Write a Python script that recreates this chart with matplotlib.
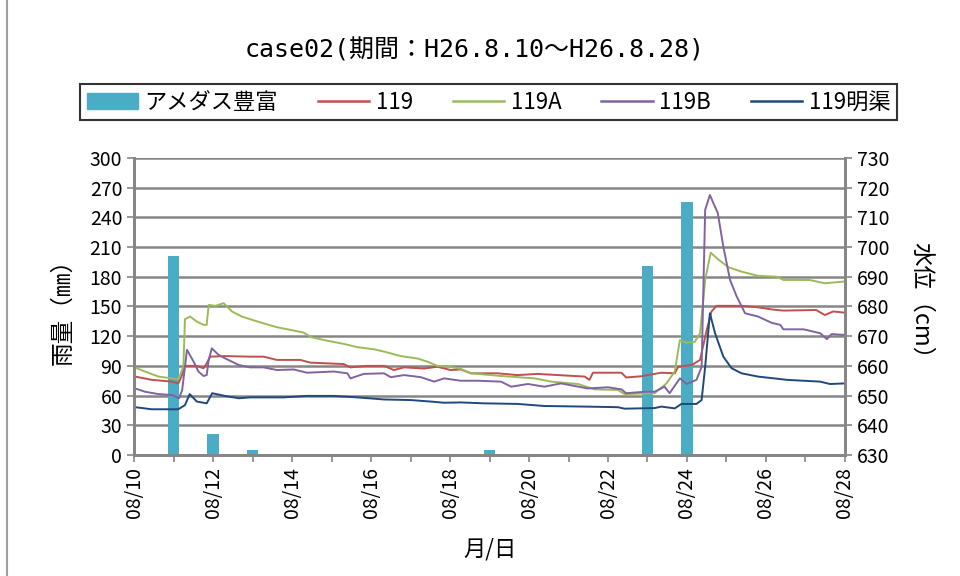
import numpy as np
import matplotlib
matplotlib.use("Agg")
import matplotlib.pyplot as plt
from matplotlib.patches import Patch
from matplotlib.lines import Line2D

plt.rcParams['font.family'] = ['Noto Sans CJK JP', 'DejaVu Sans']

# daily rainfall (mm), day of August
rain_days = [11, 12, 13, 19, 23, 24]
rain_mm = [201, 21, 5, 5, 191, 255]

# water levels (cm), time in days of August
lv119_t = [10.03, 10.45, 10.96, 11.12, 11.2, 11.29, 11.59, 11.76, 11.84, 11.93, 12.3, 12.94,
           13.28, 13.62, 14.21, 14.46, 15.31, 15.48, 15.9, 16.33, 16.58, 16.84, 17.34, 17.68,
           18.02, 18.27, 18.53, 19.2, 19.71, 20.22, 20.73, 21.41, 21.53, 21.62, 22.34, 22.46,
           22.84, 23.35, 23.69, 23.78, 24.12, 24.33, 24.5, 24.62, 24.75, 25.38, 25.8, 26.14,
           26.44, 27.27, 27.49, 27.7, 28.0]
lv119 = [656.4, 655.3, 654.7, 654.1, 656.4, 660.0, 660.0, 659.2, 660.9, 663.1, 663.3, 663.1,
         663.1, 662.0, 662.0, 661.1, 660.6, 659.5, 660.0, 660.0, 658.6, 659.5, 659.1, 659.7,
         658.6, 658.8, 657.5, 657.5, 656.9, 657.3, 656.9, 656.4, 655.3, 657.7, 657.7, 656.1,
         656.5, 657.7, 657.5, 659.7, 660.3, 662.0, 672.1, 678.3, 680.2, 680.2, 679.7, 679.0,
         678.6, 678.8, 677.1, 678.3, 677.9]

lv119a_t = [10.03, 10.28, 10.62, 10.96, 11.12, 11.25, 11.29, 11.42, 11.59, 11.76, 11.84, 11.89,
            12.06, 12.27, 12.48, 12.73, 12.94, 13.28, 13.62, 14.04, 14.29, 14.5, 14.88, 15.31,
            15.65, 16.07, 16.33, 16.5, 16.75, 17.17, 17.43, 17.68, 18.02, 18.27, 18.53, 19.29,
            20.14, 20.56, 21.24, 21.66, 22.25, 22.42, 22.84, 23.18, 23.48, 23.69, 23.82, 23.99,
            24.2, 24.33, 24.46, 24.6, 24.8, 25.05, 25.38, 25.8, 26.27, 26.44, 27.1, 27.49, 28.0]
lv119a = [659.4, 658.1, 656.4, 655.8, 655.5, 659.7, 675.7, 676.6, 674.9, 673.8, 673.8, 680.5,
          680.2, 681.1, 678.3, 676.6, 675.7, 674.3, 673.0, 671.9, 671.2, 669.6, 668.5, 667.4,
          666.3, 665.6, 664.8, 664.2, 663.3, 662.5, 661.4, 660.0, 659.6, 659.0, 657.5, 656.6,
          655.8, 654.7, 653.9, 652.1, 651.9, 650.5, 650.7, 650.8, 654.1, 658.1, 668.7, 667.8,
          668.1, 671.0, 688.9, 698.1, 695.7, 693.2, 691.7, 690.3, 690.0, 688.9, 688.9, 687.8, 688.4]

lv119b_t = [10.03, 10.28, 10.62, 10.96, 11.14, 11.22, 11.34, 11.51, 11.63, 11.76, 11.84, 11.89,
            11.97, 12.14, 12.31, 12.65, 12.94, 13.28, 13.62, 14.04, 14.38, 15.06, 15.4, 15.48,
            15.82, 16.33, 16.5, 16.84, 17.26, 17.6, 17.85, 18.27, 18.7, 19.29, 19.55, 19.97,
            20.39, 20.81, 21.49, 22.0, 22.34, 22.46, 22.93, 23.18, 23.43, 23.56, 23.82, 23.99,
            24.24, 24.37, 24.46, 24.58, 24.67, 24.78, 24.92, 25.09, 25.26, 25.47, 25.8, 26.14,
            26.36, 26.44, 26.95, 27.37, 27.54, 27.66, 28.0]
lv119b = [652.4, 651.3, 650.5, 650.2, 649.1, 651.9, 665.4, 661.4, 658.1, 656.6, 656.9, 662.0,
          665.9, 663.7, 662.5, 660.3, 659.5, 659.5, 658.6, 658.8, 657.7, 658.1, 657.5, 655.8,
          657.3, 657.5, 656.2, 656.9, 656.2, 654.7, 655.8, 655.0, 655.0, 654.7, 653.0, 653.9,
          653.0, 654.1, 652.4, 652.8, 652.1, 650.8, 651.3, 651.3, 653.0, 650.8, 655.8, 653.9,
          655.3, 659.7, 712.5, 717.5, 714.7, 711.4, 700.1, 688.9, 683.3, 677.7, 676.6, 674.5,
          673.8, 672.3, 672.3, 671.0, 669.0, 670.7, 670.4]

lvmeik_t = [10.03, 10.45, 11.12, 11.29, 11.41, 11.59, 11.84, 11.98, 12.3, 12.65, 12.94, 13.79,
            14.38, 15.06, 15.65, 16.33, 17.0, 17.51, 17.85, 18.27, 18.86, 19.71, 20.39, 21.41,
            22.25, 22.42, 23.18, 23.35, 23.69, 23.86, 24.24, 24.37, 24.46, 24.58, 24.71, 24.92,
            25.13, 25.38, 25.8, 26.53, 27.37, 27.62, 28.0]
lvmeik = [646.1, 645.4, 645.4, 646.8, 650.5, 648.0, 647.4, 650.8, 649.9, 649.1, 649.4, 649.4,
          649.9, 649.9, 649.4, 648.7, 648.5, 648.0, 647.6, 647.7, 647.4, 647.2, 646.5, 646.3,
          646.1, 645.6, 645.8, 646.3, 645.7, 647.2, 647.2, 648.5, 659.7, 677.7, 671.0, 663.1,
          659.2, 657.5, 656.4, 655.3, 654.7, 653.9, 654.1]

day_ticks = list(range(10, 29))
day_labels = [f"08/{d}" if d % 2 == 0 else "" for d in day_ticks]

c_rain = "#4bacc6"
c_119 = "#c0504d"
c_119a = "#9bbb59"
c_119b = "#8064a2"
c_meik = "#1f497d"
grid_c = "#868686"

fig = plt.figure(figsize=(9.6, 5.76), dpi=100)
ax = fig.add_axes([0.1396, 0.210, 0.7406, 0.516])
ax2 = ax.twinx()

ax.bar(rain_days, rain_mm, width=0.3, color=c_rain, zorder=2)
ax.set_xlim(10, 28)
ax.set_ylim(0, 300)
ax.set_yticks(np.arange(0, 301, 30))
ax.set_xticks(day_ticks)
ax.set_xticklabels(day_labels, rotation=90)
ax.yaxis.grid(True, color=grid_c, linewidth=1.8)
ax.set_axisbelow(True)

ax2.plot(lv119_t, lv119, color=c_119, lw=1.4)
ax2.plot(lv119a_t, lv119a, color=c_119a, lw=1.4)
ax2.plot(lv119b_t, lv119b, color=c_119b, lw=1.4)
ax2.plot(lvmeik_t, lvmeik, color=c_meik, lw=1.4)
ax2.set_ylim(630, 730)
ax2.set_yticks(np.arange(630, 731, 10))

for a in (ax, ax2):
    a.spines['top'].set_visible(False)
    for s in ('left', 'right', 'bottom'):
        a.spines[s].set_color(grid_c)
        a.spines[s].set_linewidth(2.0)
    a.tick_params(colors=grid_c, width=1.2, length=5, labelcolor="black", labelsize=14)

ax.set_ylabel("雨量（㎜）", fontsize=17, labelpad=11)
ax2.set_ylabel("水位（cm）", fontsize=17, rotation=-90, labelpad=31)
ax.set_xlabel("月/日", fontsize=16, labelpad=14)

fig.text(0.494, 0.913, "case02(期間：H26.8.10～H26.8.28)", ha="center", va="center",
         fontsize=18, family=['DejaVu Sans Mono', 'Noto Sans CJK JP'])

handles = [Patch(color=c_rain),
           Line2D([], [], color=c_119, lw=1.8),
           Line2D([], [], color=c_119a, lw=1.8),
           Line2D([], [], color=c_119b, lw=1.8),
           Line2D([], [], color=c_meik, lw=1.8)]
names = ["アメダス豊富", "119", "119A", "119B", "119明渠"]
leg = fig.legend(handles, names, loc="center", bbox_to_anchor=(0.509, 0.8225), ncol=5,
                 fontsize=16, frameon=True, fancybox=False, handlelength=2.3,
                 handleheight=0.75, handletextpad=0.3, columnspacing=1.8, borderpad=0.3)
leg.get_frame().set_edgecolor("black")
leg.get_frame().set_linewidth(1.5)

# chart area border on the left edge
fig.add_artist(Line2D([0.0076, 0.0076], [0, 1], transform=fig.transFigure,
                      color="#a0a0a0", linewidth=1.5))

fig.savefig("out.png", dpi=100)
